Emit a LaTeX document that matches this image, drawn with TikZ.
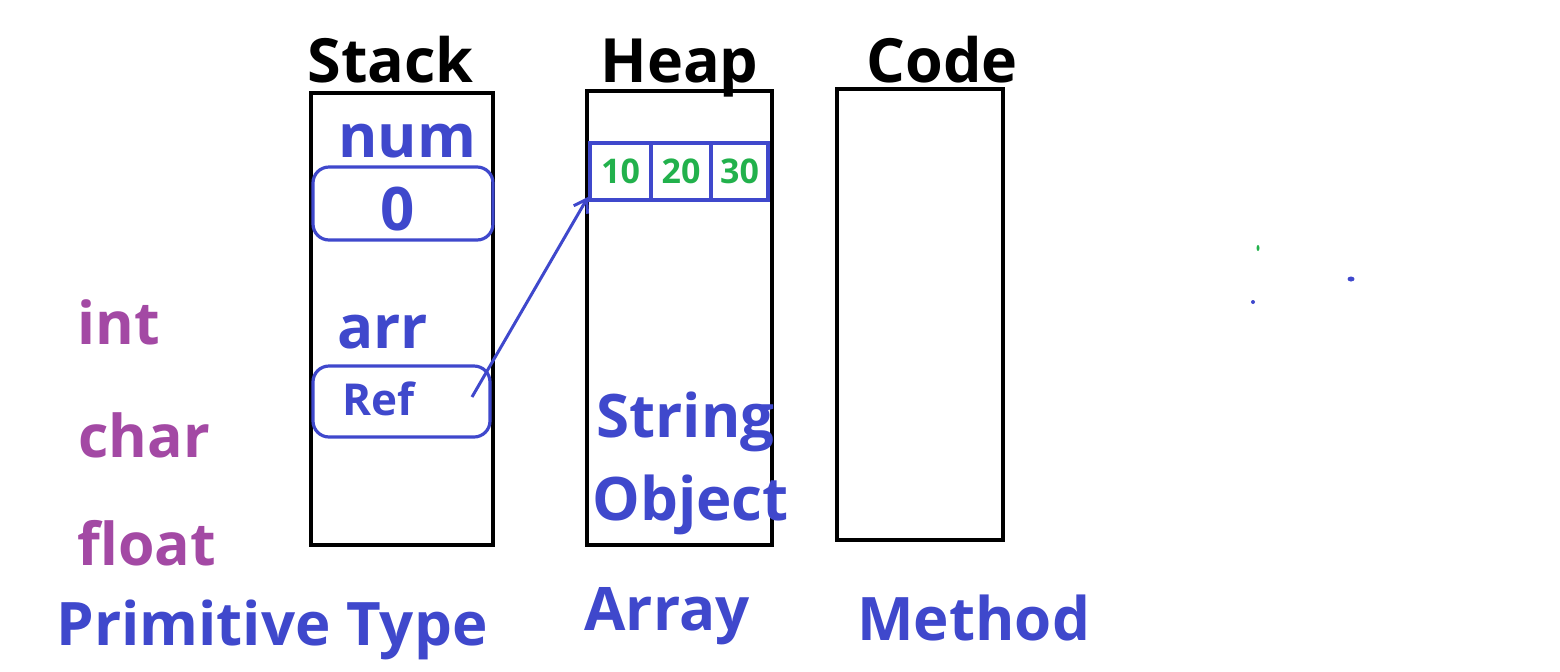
\documentclass[tikz,border=0pt]{standalone}
\usepackage{fontspec}
\setmainfont{Open Sans}
\usetikzlibrary{arrows.meta}
\definecolor{mblue}{HTML}{3F48CC}
\definecolor{mpurple}{HTML}{A349A4}
\definecolor{mgreen}{HTML}{22B14C}
\tikzset{
  title/.style={anchor=base west,inner sep=0pt,text=black,font=\bfseries\fontsize{30.5}{36}\selectfont},
  bluetxt/.style={anchor=base west,inner sep=0pt,text=mblue,font=\bfseries\fontsize{30}{36}\selectfont},
  purptxt/.style={anchor=base west,inner sep=0pt,text=mpurple,font=\bfseries\fontsize{29.5}{34}\selectfont},
  area/.style={draw=black,line width=2pt},
  slot/.style={draw=mblue,line width=1.6pt,rounded corners=8pt},
  cell/.style={draw=mblue,line width=1.6pt,minimum width=30pt,minimum height=28.5pt,inner sep=0pt,
    text=mgreen,font=\bfseries\fontsize{17}{20}\selectfont},
}
\begin{document}
\begin{tikzpicture}[x=0.5pt,y=-0.5pt]
\useasboundingbox (0,0) rectangle (1560,671);
% titles
\node[title] (tstack) at (307,82) {Stack};
\node[title] (theap) at (600,82) {Heap};
\node[title] (tcode) at (866,82) {Code};
% areas
\draw[area] (311,93) rectangle (493,545);
\draw[area] (587,91) rectangle (772,545);
\draw[area] (837,89) rectangle (1003,540);
% stack contents
\node[bluetxt] (num) at (338,157) {num};
\draw[slot] (313,167) rectangle (493,240);
\node[bluetxt,anchor=center] (zero) at (398,209) {0};
\node[bluetxt] (arr) at (337,348) {arr};
\draw[slot] (313,366) rectangle (490,437);
\node[bluetxt,font=\bfseries\fontsize{22}{26}\selectfont] (ref) at (342,415) {Ref};
\coordinate (refpt) at (472,397);
% array cells
\node[cell,minimum width=30.5pt] (c1) at (620.5,171.5) {10};
\node[cell] (c2) at (681,171.5) {20};
\node[cell,minimum width=28.5pt] (c3) at (739.5,171.5) {30};
\coordinate (arrtip) at (588,197);
\draw[mblue,line width=1.5pt,-{Straight Barb[length=6pt,width=8pt]}] (refpt) -- (arrtip);
% heap text
\node[bluetxt] (string) at (596,437) {String};
\node[bluetxt] (object) at (592,520) {Object};
% primitive types
\node[purptxt] (int) at (77,344) {int};
\node[purptxt] (char) at (78,457) {char};
\node[purptxt] (float) at (77,565) {float};
% captions
\node[bluetxt] (prim) at (56,645) {Primitive Type};
\node[bluetxt] (array) at (584,630) {Array};
\node[bluetxt] (method) at (857,640) {Method};
% stray dots
\fill[mgreen] (1258,248) ellipse (1.5 and 3);
\fill[mblue] (1351,279) ellipse (3.5 and 2.5);
\fill[mblue] (1253,302) circle (2);
\end{tikzpicture}
\end{document}
